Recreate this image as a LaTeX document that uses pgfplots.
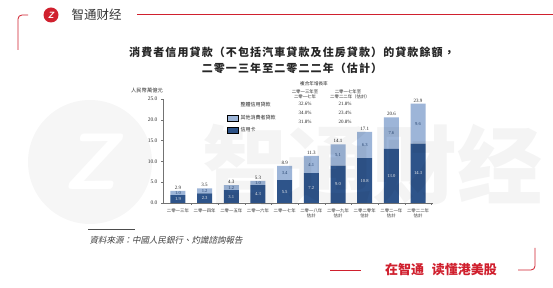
\documentclass[border=0pt]{standalone}
\usepackage{pgfplots}
\pgfplotsset{compat=1.18}
\usepackage{pgfplotstable}
\usepackage{fontspec}
\setmainfont{Liberation Serif}
\newfontfamily\cjk{Noto Sans CJK TC}
\newfontfamily\cjksc{Noto Sans CJK SC}
\newfontfamily\cjkit{Noto Sans CJK TC}[FakeSlant=0.2]
\newfontfamily\cjktitle{Noto Sans CJK TC}[LetterSpace=10]
\definecolor{darkb}{RGB}{46,84,138}
\definecolor{lightb}{RGB}{157,181,216}
\definecolor{zred}{RGB}{208,32,46}

\pgfplotstableread{
x cc other total
0 1.9 1.0 2.9
1 2.3 1.2 3.5
2 3.1 1.2 4.3
3 4.3 1.0 5.3
4 5.5 3.4 8.9
5 7.2 4.1 11.3
6 9.0 5.1 14.1
7 10.8 6.3 17.1
8 13.0 7.6 20.6
9 14.3 9.6 23.9
}\loans

\begin{document}
\begin{tikzpicture}
\path[use as bounding box, fill=white] (0,0) rectangle (553pt,288pt);

% watermark (behind)
\fill[black, opacity=0.035] (90pt,126pt) circle (62pt);
\node[text=white, font=\sffamily\bfseries\itshape\fontsize{80}{80}\selectfont] at (90pt,126pt) {Z};

% header
\fill[zred] (51pt,273pt) circle (7.5pt);
\node[text=white, font=\sffamily\bfseries\itshape\fontsize{9}{9}\selectfont] at (51pt,273pt) {Z};
\node[anchor=west, font=\cjksc\fontsize{12.5}{13}\selectfont, text=black!80] at (68pt,273pt) {智通财经};
\draw[zred, line width=0.8pt] (137pt,274pt) -- (553pt,274pt);
\draw[zred, line width=0.8pt, rounded corners=4pt] (28pt,273pt) -- (18pt,273pt) -- (18pt,238pt);

% title
\node[font=\cjktitle\bfseries\fontsize{11}{13}\selectfont, text=black!85] at (292pt,236pt) {消費者信用貸款（不包括汽車貸款及住房貸款）的貸款餘額，};
\node[font=\cjktitle\bfseries\fontsize{11}{13}\selectfont, text=black!85] at (292pt,220pt) {二零一三年至二零二二年（估計）};

% y label
\node[font=\cjk\fontsize{5.3}{6}\selectfont, text=black!80] at (147pt,198pt) {人民幣萬億元};

\begin{axis}[
  at={(163pt,85pt)}, anchor=south west, scale only axis,
  width=270pt, height=104pt,
  xmin=-0.56, xmax=9.56, ymin=0, ymax=25,
  ybar stacked, bar width=15pt,
  axis x line*=bottom, axis y line*=left,
  axis line style={black!55, line width=0.4pt},
  xtick={0,...,9},
  xticklabels={二零一三年,二零一四年,二零一五年,二零一六年,二零一七年,{二零一八年\\估計},{二零一九年\\估計},{二零二零年\\估計},{二零二一年\\估計},{二零二二年\\估計}},
  x tick label style={font=\cjk\fontsize{4.4}{5.6}\selectfont, align=center, text=black!80},
  major x tick style={draw=none},
  minor xtick={0.5,1.5,...,9.5},
  minor x tick style={black!55},
  ytick={0,5,...,25},
  yticklabel={\pgfmathprintnumber[fixed,fixed zerofill,precision=1]{\tick}},
  /pgf/number format/assume math mode=true,
  y tick label style={font=\fontsize{5.5}{6}\selectfont, text=black!80},
  ytick style={black!55},
  tick align=outside, major tick length=2pt, minor tick length=2pt,
  clip=false,
]
\addplot[fill=darkb, draw=none] table[x=x,y=cc]{\loans};
\addplot[fill=lightb, draw=none] table[x=x,y=other]{\loans};
\end{axis}

\begin{axis}[
  at={(163pt,85pt)}, anchor=south west, scale only axis,
  width=270pt, height=104pt,
  xmin=-0.56, xmax=9.56, ymin=0, ymax=25,
  axis lines=none, clip=false,
  legend style={at={(rel axis cs:0.237,0.985)}, anchor=north west, draw=none, fill=none,
    font=\cjk\fontsize{5}{6}\selectfont, row sep=2.6pt, inner sep=0pt, cells={anchor=west},
    text=black!85},
  legend image code/.code={\fill[#1] (0pt,-2.8pt) rectangle (11pt,2.8pt);},
]
\addlegendimage{empty legend}\addlegendentry{整體信用貸款}
\addlegendimage{fill=lightb}\addlegendentry{其他消費者貸款}
\addlegendimage{fill=darkb}\addlegendentry{信用卡}
\addplot[draw=none, mark=none, nodes near coords, point meta=explicit symbolic,
  every node near coord/.append style={anchor=center, inner sep=0.5pt, font=\fontsize{4.6}{5}\selectfont, text=black!5}]
  table[x=x, y expr=\thisrow{cc}/2, meta=cc]{\loans};
\addplot[draw=none, mark=none, nodes near coords, point meta=explicit symbolic,
  every node near coord/.append style={anchor=center, inner sep=0.5pt, font=\fontsize{4.6}{5}\selectfont, text=darkb!80!black}]
  table[x=x, y expr=\thisrow{cc}+\thisrow{other}/2, meta=other]{\loans};
\addplot[draw=none, mark=none, nodes near coords, point meta=explicit symbolic,
  every node near coord/.append style={anchor=south, inner sep=1.2pt, font=\fontsize{5}{6}\selectfont, text=black!85}]
  table[x=x, y=total, meta=total]{\loans};
\end{axis}

% CAGR block
\node[font=\cjk\fontsize{4.6}{5}\selectfont, text=black!85] at (314pt,204pt) {複合年增長率};
\node[font=\cjk\fontsize{4.4}{5}\selectfont, text=black!85] at (305pt,196.3pt) {二零一三年至};
\node[font=\cjk\fontsize{4.4}{5}\selectfont, text=black!85] at (305pt,191.5pt) {二零一七年};
\node[font=\cjk\fontsize{4.4}{5}\selectfont, text=black!85] at (348pt,196.3pt) {二零一七年至};
\node[font=\cjk\fontsize{4.4}{5}\selectfont, text=black!85] at (350pt,191.5pt) {二零二二年（估計）};
\foreach \a/\b/\yy in {32.6/21.8/184, 34.0/23.4/175, 31.8/20.8/166}{
  \node[font=\fontsize{5}{6}\selectfont, text=black!85] at (305pt,\yy pt) {\a\%};
  \node[font=\fontsize{5}{6}\selectfont, text=black!85] at (345pt,\yy pt) {\b\%};
}

% source
\draw[black!70, line width=0.6pt] (88pt,59pt) -- (135pt,59pt);
\node[anchor=west, font=\cjkit\fontsize{8.5}{10}\selectfont, text=black!75] at (86pt,48pt) {資料來源：中國人民銀行、灼識諮詢報告};

% footer
\draw[zred, line width=0.8pt] (330pt,18pt) -- (361pt,18pt);
\node[font=\cjksc\bfseries\fontsize{13}{14}\selectfont, text=zred] at (441pt,18pt) {在智通\hspace{0.6em}读懂港美股};
\draw[zred, line width=0.8pt, rounded corners=4pt] (518pt,18pt) -- (535pt,18pt) -- (535pt,40pt);

% watermark text
\node[font=\cjksc\bfseries\fontsize{85}{85}\selectfont, text=black, opacity=0.045] at (372pt,123pt) {智通财经};
\end{tikzpicture}
\end{document}
